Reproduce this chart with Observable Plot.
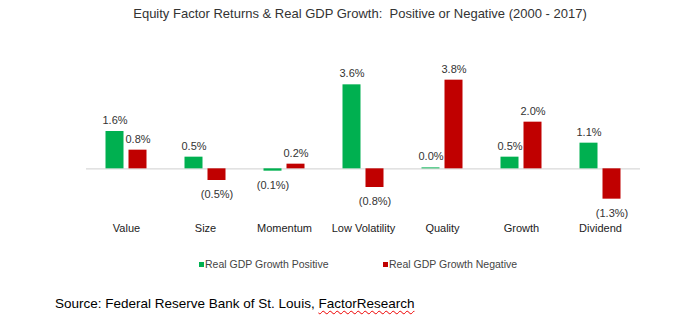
<!DOCTYPE html>
<html><head><meta charset="utf-8">
<script src="https://cdn.jsdelivr.net/npm/d3@7"></script>
<script src="https://cdn.jsdelivr.net/npm/@observablehq/plot@0.6"></script>
<style>
body{margin:0;background:#fff;font-family:"Liberation Sans",Arial,sans-serif;}
#wrap{position:relative;width:682px;height:325px;overflow:hidden;}
#title{position:absolute;left:0;width:720px;top:6px;text-align:center;font-size:13px;color:#333;}
#chart{position:absolute;left:0;top:0;}
#legend{position:absolute;top:258px;left:0;width:682px;font-size:10.5px;color:#444;}
.lg{position:absolute;white-space:nowrap;}
.sw{display:inline-block;width:5px;height:5px;margin-right:1px;vertical-align:1px;}
#source{position:absolute;left:55px;top:296px;font-size:13.5px;color:#000;}
#source span{text-decoration:underline wavy #e00;text-decoration-thickness:1px;text-underline-offset:2px;}
</style></head>
<body><div id="wrap">
<div id="title">Equity Factor Returns &amp; Real GDP Growth:&nbsp; Positive or Negative (2000 - 2017)</div>
<div id="chart"></div>
<div id="legend"></div>
<div id="source">Source: Federal Reserve Bank of St. Louis, <span>FactorResearch</span></div>
</div>
<script>
const categories = ["Value","Size","Momentum","Low Volatility","Quality","Growth","Dividend"];
const positiveGDP = [1.6, 0.5, -0.1, 3.6, 0.04, 0.5, 1.1];
const negativeGDP = [0.8, -0.5, 0.2, -0.8, 3.8, 2.0, -1.3];
const seriesNames = ["Real GDP Growth Positive","Real GDP Growth Negative"];
const colors = ["#00B050","#C00000"];

const pos = categories.map((c,i)=>({category:c, value:positiveGDP[i]}));
const neg = categories.map((c,i)=>({category:c, value:negativeGDP[i]}));
const fmt = v => { const s = Math.abs(v).toFixed(1) + "%"; return v < -0.001 ? "(" + s + ")" : s; };

function labels(data, dx, fill){
  return Plot.text(data, {x:"category", y:"value", text:d=>fmt(d.value), dx,
    dy: d=>0, lineAnchor:"middle", fontSize:11, fill:"#333",
    ...{}});
}

const chart = Plot.plot({
  width:682, height:245,
  marginLeft:86, marginRight:42, marginTop:75, marginBottom:30,
  style:{fontFamily:"'Liberation Sans', Arial, sans-serif", fontSize:"11px", background:"transparent"},
  x:{domain:categories, paddingInner:0.773, paddingOuter:0.3865, axis:null},
  y:{domain:[-2,4], axis:null},
  marks:[
    Plot.ruleY([0], {stroke:"#d9d9d9", strokeWidth:1.2}),
    Plot.barY(pos, {x:"category", y:"value", fill:colors[0], dx:-11.5}),
    Plot.barY(neg, {x:"category", y:"value", fill:colors[1], dx:11.5}),
    Plot.text(pos.filter(d=>d.value>=0), {x:"category", y:"value", text:d=>fmt(d.value), dx:-11.5, dy:-11, lineAnchor:"middle", fontSize:11, fill:"#333"}),
    Plot.text(pos.filter(d=>d.value<0), {x:"category", y:"value", text:d=>fmt(d.value), dx:-11.5, dy:14, lineAnchor:"middle", fontSize:11, fill:"#333"}),
    Plot.text(neg.filter(d=>d.value>=0), {x:"category", y:"value", text:d=>fmt(d.value), dx:11.5, dy:-11, lineAnchor:"middle", fontSize:11, fill:"#333"}),
    Plot.text(neg.filter(d=>d.value<0), {x:"category", y:"value", text:d=>fmt(d.value), dx:11.5, dy:14, lineAnchor:"middle", fontSize:11, fill:"#333"}),
    Plot.text(categories, {x:d=>d, frameAnchor:"bottom", dy:13, lineAnchor:"middle", fontSize:11, fill:"#222"})
  ]
});
document.getElementById("chart").appendChild(chart);

const lg = document.getElementById("legend");
const lefts = [199, 383];
seriesNames.forEach((n,i)=>{
  const d = document.createElement("div");
  d.className = "lg"; d.style.left = lefts[i] + "px";
  d.innerHTML = `<span class="sw" style="background:${colors[i]}"></span>${n}`;
  lg.appendChild(d);
});
</script>
</body></html>
